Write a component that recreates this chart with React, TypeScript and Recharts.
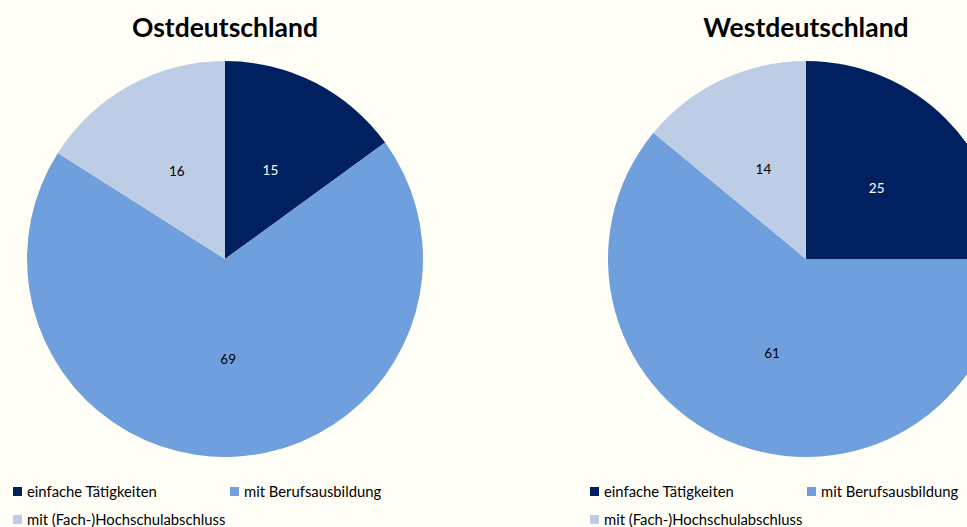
import React from "react";
import { PieChart, Pie, Cell } from "recharts";

const categories = ["einfache Tätigkeiten", "mit Berufsausbildung", "mit (Fach-)Hochschulabschluss"];
const ostValues = [15, 69, 16];
const westValues = [25, 61, 14];
const titles = ["Ostdeutschland", "Westdeutschland"];
const colors = ["#002060", "#6F9FDC", "#BCCDE5"];
const labelColors = ["#FFFFFF", "#000000", "#000000"];

const ostData = categories.map((name, i) => ({ name, value: ostValues[i] }));
const westData = categories.map((name, i) => ({ name, value: westValues[i] }));

const RADIAN = Math.PI / 180;
const FONT = "Lato, 'Open Sans', sans-serif";

const renderLabel = (props: any) => {
  const { cx, cy, midAngle, outerRadius, index, value } = props;
  const r = outerRadius * 0.505;
  const x = cx + r * Math.cos(-midAngle * RADIAN);
  const y = cy + r * Math.sin(-midAngle * RADIAN);
  return (
    <text
      x={x}
      y={y}
      fill={labelColors[index]}
      textAnchor="middle"
      dominantBaseline="central"
      fontSize={13.5}
      fontFamily={FONT}
    >
      {value}
    </text>
  );
};

const centers = [225, 806];
const legendLeft = [13, 590];

export default function App() {
  return (
    <div
      style={{
        position: "absolute",
        left: 0,
        top: 0,
        width: 967,
        height: 527,
        background: "#FFFFF8",
        overflow: "hidden",
        fontFamily: FONT,
      }}
    >
      <PieChart
        width={967}
        height={527}
        margin={{ top: 0, right: 0, bottom: 0, left: 0 }}
        style={{ position: "absolute", left: 0, top: 0 }}
      >
        <Pie
          data={ostData}
          dataKey="value"
          cx={225}
          cy={259}
          outerRadius={198}
          startAngle={90}
          endAngle={-270}
          stroke="none"
          label={renderLabel}
          labelLine={false}
          isAnimationActive={false}
        >
          {ostData.map((d, i) => (
            <Cell key={d.name} fill={colors[i]} />
          ))}
        </Pie>
        <Pie
          data={westData}
          dataKey="value"
          cx={806}
          cy={259}
          outerRadius={198}
          startAngle={90}
          endAngle={-270}
          stroke="none"
          label={renderLabel}
          labelLine={false}
          isAnimationActive={false}
        >
          {westData.map((d, i) => (
            <Cell key={d.name} fill={colors[i]} />
          ))}
        </Pie>
      </PieChart>
      {titles.map((t, k) => (
        <div
          key={t}
          style={{
            position: "absolute",
            left: centers[k] - 150,
            width: 300,
            top: 9,
            textAlign: "center",
            fontSize: 26.5,
            fontWeight: 700,
            color: "#000",
            lineHeight: "36px",
          }}
        >
          {t}
        </div>
      ))}
      {legendLeft.map((lx, k) => (
        <div key={k}>
          {categories.map((c, i) => {
            const left = lx + (i === 1 ? 217 : 0);
            const top = i === 2 ? 510 : 482;
            return (
              <div
                key={c}
                style={{
                  position: "absolute",
                  left,
                  top,
                  height: 18,
                  display: "flex",
                  alignItems: "center",
                  whiteSpace: "nowrap",
                  fontSize: 14.8,
                  color: "#000",
                }}
              >
                <span
                  style={{
                    display: "inline-block",
                    width: 9,
                    height: 9,
                    background: colors[i],
                    marginRight: 5,
                  }}
                />
                <span>{c}</span>
              </div>
            );
          })}
        </div>
      ))}
    </div>
  );
}
